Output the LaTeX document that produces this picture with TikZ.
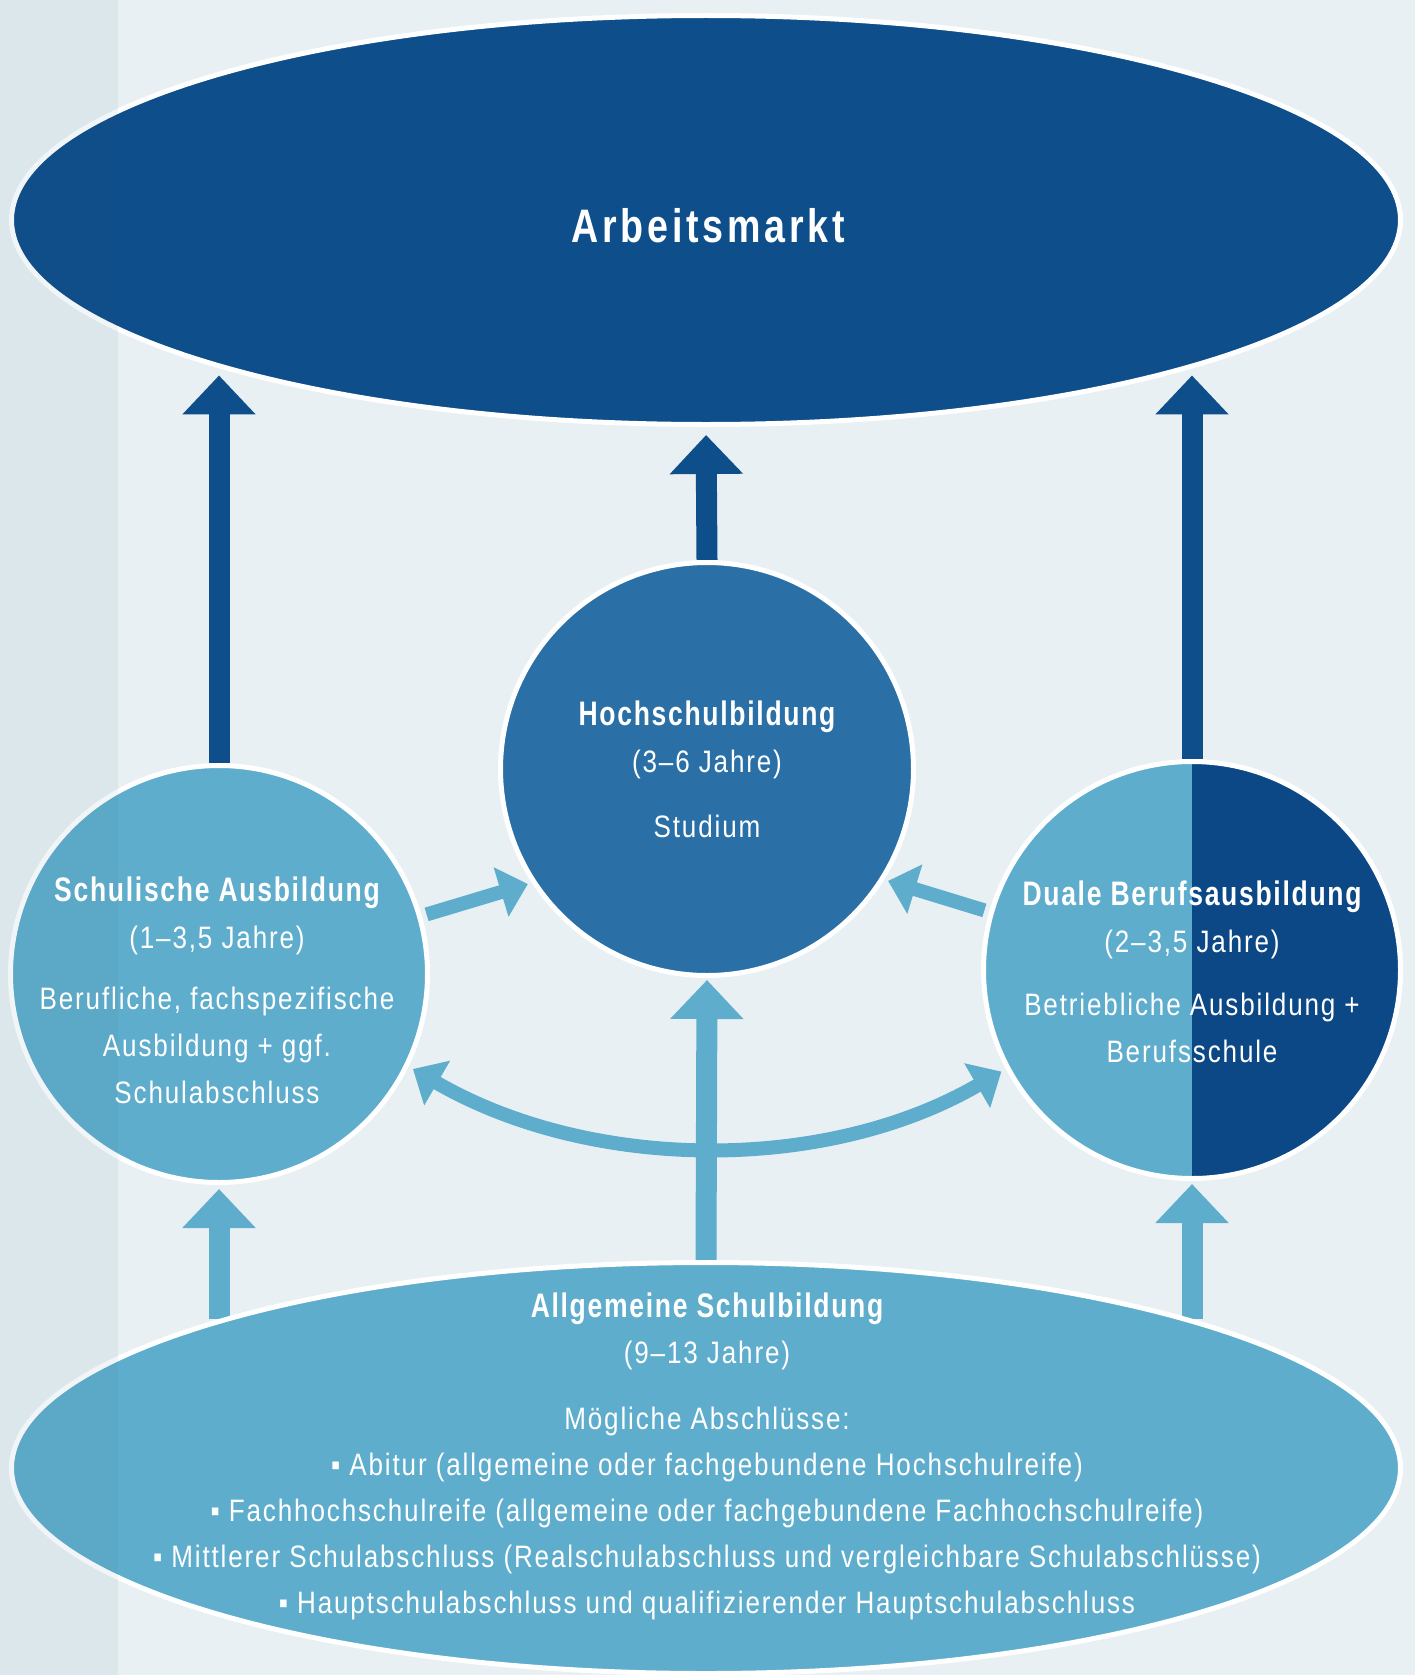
\documentclass[tikz,border=0pt]{standalone}
\usepackage{fontspec}
\setmainfont{Liberation Sans}
\newfontfamily\titlefont{Liberation Sans}[FakeStretch=0.8,LetterSpace=8]
\newfontfamily\headfont{Liberation Sans}[FakeStretch=0.78,LetterSpace=5]
\newfontfamily\bodyfont{Liberation Sans}[FakeStretch=0.84,LetterSpace=6]
\usepackage{xcolor}
\usetikzlibrary{positioning}
\usetikzlibrary{shapes.geometric}
\usetikzlibrary{arrows.meta}
\definecolor{navy}{HTML}{0E4E8A}
\definecolor{midblue}{HTML}{2A70A6}
\definecolor{lightblue}{HTML}{5FADCC}
\definecolor{darkhalf}{HTML}{0C4885}
\definecolor{paper}{HTML}{E8F0F3}
\definecolor{stripe}{HTML}{23597D}
\pgfdeclarelayer{back}
\pgfdeclarelayer{mid}
\pgfsetlayers{back,mid,main}
\newcommand\headline[1]{{\headfont\bfseries\fontsize{34}{47}\selectfont #1}}
\begin{document}
\begin{tikzpicture}[x=1pt, y=-1pt,
    blob/.style={draw=white, line width=5pt, inner sep=0pt},
    oval/.style={blob, ellipse},
    disc/.style={blob, circle},
    txt/.style={text=white, align=center, inner sep=0pt, font=\bodyfont\fontsize{31}{47}\selectfont},
    darkarrow/.style={draw=navy, line width=21pt, -{Triangle[width=71pt,length=39pt]}},
    lightarrow/.style={draw=lightblue, line width=21pt, -{Triangle[width=71pt,length=39pt]}},
    thinarrow/.style={draw=lightblue, line width=14pt, -{Triangle[width=50pt,length=28pt]}},
    thinarrows/.style={draw=lightblue, line width=14pt, {Triangle[width=50pt,length=28pt]}-{Triangle[width=50pt,length=28pt]}}]
				\begin{pgfonlayer}{back}
					\fill[paper] (0,0) rectangle (1415,1675);
				\end{pgfonlayer}
				\useasboundingbox (0,0) rectangle (1415,1675);
				\node[oval, fill=navy, minimum width=1389pt, minimum height=409pt] (markt) at (706,220) {};
				\node[disc, fill=midblue, minimum size=413pt] (hoch) at (707,769) {};
				\node[disc, fill=lightblue, minimum size=417pt] (schule) at (219,974) {};
				\node[disc, fill=lightblue, minimum size=417pt,
					path picture={\fill[darkhalf] (path picture bounding box.north) rectangle (path picture bounding box.south east);}] (dual) at (1192,970) {};
				\node[oval, fill=lightblue, minimum width=1389pt, minimum height=411pt] (allg) at (706,1468) {};
				\fill[stripe, fill opacity=0.06] (0,0) rectangle (118,1675);
				\node[txt, font=\titlefont\bfseries\fontsize{47}{50}\selectfont] (markttext) at (708,226) {Arbeitsmarkt};
				\node[txt] (hochtext) at (707,769) {\headline{Hochschulbildung}\\(3–6 Jahre)\\[18pt]Studium};
				\node[txt] (schuletext) at (217,990) {\headline{Schulische Ausbildung}\\(1–3,5 Jahre)\\[14pt]Berufliche, fachspezifische\\Ausbildung + ggf.\\Schulabschluss};
				\node[txt] (dualtext) at (1192,972) {\headline{Duale Berufsausbildung}\\(2–3,5 Jahre)\\[16pt]Betriebliche Ausbildung +\\Berufsschule};
				\node[txt, font=\bodyfont\fontsize{31}{46}\selectfont] (allgtext) at (707,1456) {\headline{Allgemeine Schulbildung}\\(9–13 Jahre)\\[20pt]Mögliche Abschlüsse:\\▪ Abitur (allgemeine oder fachgebundene Hochschulreife)\\▪ Fachhochschulreife (allgemeine oder fachgebundene Fachhochschulreife)\\▪ Mittlerer Schulabschluss (Realschulabschluss und vergleichbare Schulabschlüsse)\\▪ Hauptschulabschluss und qualifizierender Hauptschulabschluss};
				\begin{pgfonlayer}{mid}
					\draw[darkarrow, shorten >=7pt] (schule.north) -- (schule.north |- markt.197);
					\draw[darkarrow, shorten >=8pt] (hoch.north) -- (markt.south);
					\draw[darkarrow, shorten >=7pt] (dual.north) -- (dual.north |- markt.-17);
					\draw[thinarrow, shorten <=5pt, shorten >=4pt] (schule.16) -- (hoch.213);
					\draw[thinarrow, shorten <=5pt, shorten >=4pt] (dual.164) -- (hoch.-32);
					\draw[lightarrow, shorten >=2pt] (allg.north) -- (hoch.south);
					\draw[thinarrows, shorten <=5pt, shorten >=5pt] (schule.-26) .. controls +(181,105) and +(-181,105) .. (dual.208);
					\draw[lightarrow, shorten >=4pt] (schule.south |- allg.163) -- (schule.south);
					\draw[lightarrow, shorten >=3pt] (dual.south |- allg.17) -- (dual.south);
				\end{pgfonlayer}
\end{tikzpicture}
\end{document}
